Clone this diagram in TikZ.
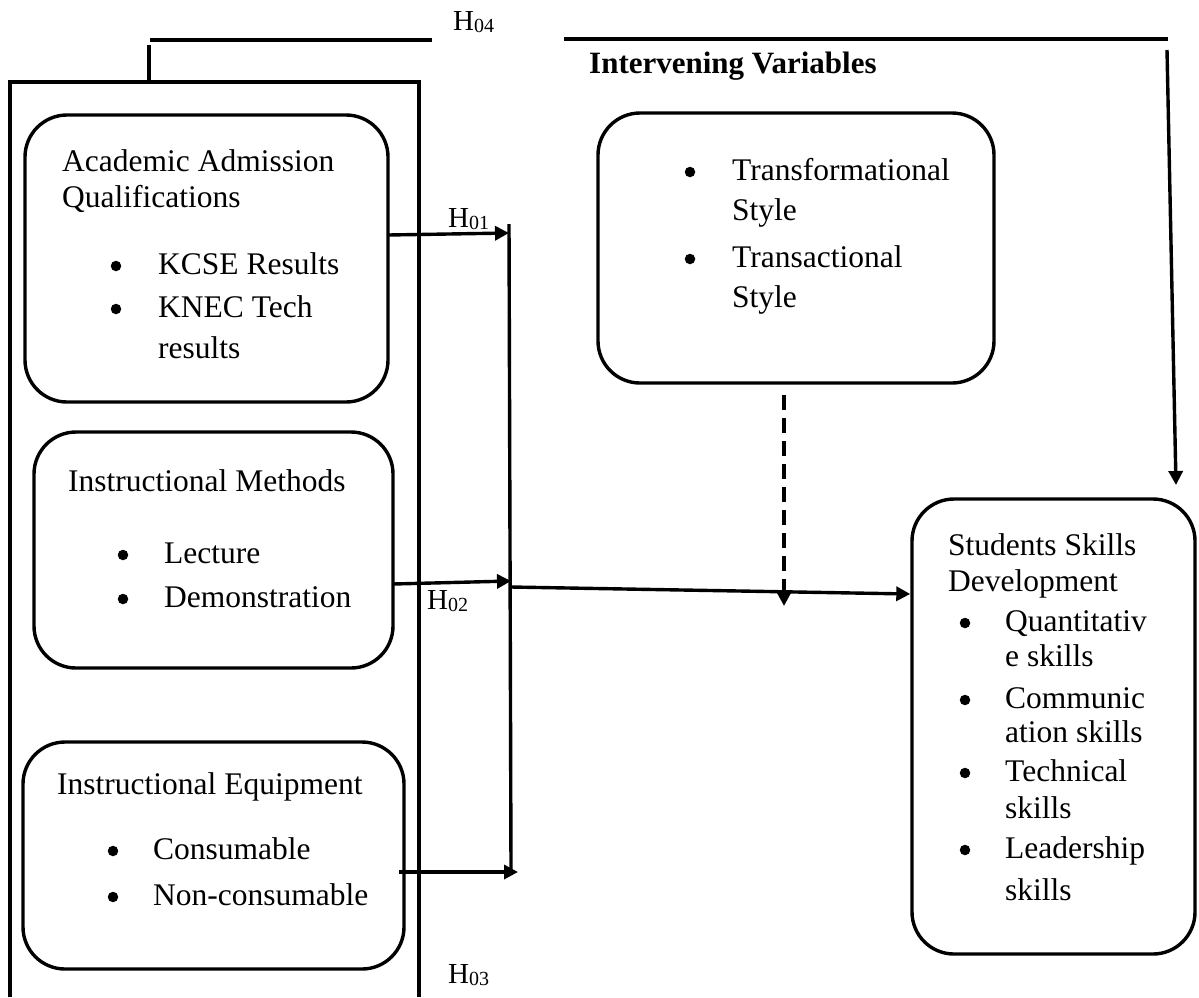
\documentclass[tikz,border=0pt]{standalone}
\usepackage{fontspec}
\setmainfont{Liberation Serif}
\usetikzlibrary{arrows.meta,fit}
\newcommand\hyp[1]{H\raisebox{-2.5pt}{\fontsize{20}{20}\selectfont #1}}
\begin{document}
\begin{tikzpicture}[x=1pt,y=-1pt,
  box/.style={draw, line width=3.4pt, rounded corners=42pt, inner sep=0pt},
  txt/.style={anchor=base west, inner sep=0pt, font=\fontsize{31.5}{36}\selectfont},
  dot/.style={circle, fill, inner sep=0pt, minimum size=10.5pt},
  hlab/.style={anchor=base west, inner sep=0pt, font=\fontsize{29}{30}\selectfont},
  ln/.style={line width=3.4pt},
  arr/.style={ln, -{Triangle[length=14pt,width=14pt]}},
  dsh/.style={arr, dash pattern=on 15pt off 8pt}]
\useasboundingbox (0,0) rectangle (1199,997);

% outer frame (open at bottom) and H04 bracket
\coordinate (oBL) at (10,997);
\coordinate (oTL) at (10,82);
\coordinate (oTR) at (419,82);
\coordinate (oBR) at (419,997);
\draw[ln] (oBL) -- (oTL) -- (oTR) -- (oBR);
\coordinate (stubB) at (149,82);
\coordinate (stubT) at (149,45);
\coordinate (h4a) at (150,40);
\coordinate (h4b) at (432,40);
\draw[ln] (stubB) -- (stubT);
\draw[ln] (h4a) -- (h4b);
\node[hlab] (h04) at (453,30) {\hyp{04}};
\coordinate (r4a) at (564,39);
\coordinate (r4b) at (1168,39);
\draw[ln] (r4a) -- (r4b);

% boxes
\node[box, fit={(25,115) (388,402)}] (b1) {};
\node[box, fit={(34,432) (393,668)}] (b2) {};
\node[box, fit={(23,742) (404,969)}] (b3) {};
\node[box, fit={(598,113) (994,383)}] (bi) {};
\node[box, fit={(912,499) (1195,954)}] (bs) {};

% box 1 text
\node[txt] (t1a) at (62,171) {Academic Admission};
\node[txt] (t1b) at (62,207) {Qualifications};
\node[dot] (t1c) at (116,266) {};
\node[txt] (t1d) at (158,274) {KCSE Results};
\node[dot] (t1e) at (116,309) {};
\node[txt] (t1f) at (158,317) {KNEC Tech};
\node[txt] (t1g) at (158,358) {results};

% box 2 text
\node[txt] (t2a) at (68,491) {Instructional Methods};
\node[dot] (t2b) at (123,555) {};
\node[txt] (t2c) at (164,563) {Lecture};
\node[dot] (t2d) at (123,599) {};
\node[txt] (t2e) at (164,607) {Demonstration};

% box 3 text
\node[txt] (t3a) at (57,794) {Instructional Equipment};
\node[dot] (t3b) at (113,851) {};
\node[txt] (t3c) at (153,859) {Consumable};
\node[dot] (t3d) at (113,897) {};
\node[txt] (t3e) at (153,905) {Non-consumable};

% intervening
\node[txt, font=\fontsize{31}{34}\selectfont\bfseries] (iv) at (589,73) {Intervening Variables};
\node[dot] (tia) at (690,172) {};
\node[txt] (tib) at (732,180) {Transformational};
\node[txt] (tic) at (732,220) {Style};
\node[dot] (tid) at (690,259) {};
\node[txt] (tie) at (732,267) {Transactional};
\node[txt] (tif) at (732,307) {Style};

% students
\node[txt] (tsa) at (948,555) {Students Skills};
\node[txt] (tsb) at (948,591) {Development};
\node[dot] (tsc) at (965,623) {};
\node[txt] (tsd) at (1005,631) {Quantitativ};
\node[txt] (tse) at (1005,666) {e skills};
\node[dot] (tsf) at (965,700) {};
\node[txt] (tsg) at (1005,708) {Communic};
\node[txt] (tsh) at (1005,742) {ation skills};
\node[dot] (tsi) at (965,773) {};
\node[txt] (tsj) at (1005,781) {Technical};
\node[txt] (tsk) at (1005,818) {skills};
\node[dot] (tsl) at (965,850) {};
\node[txt] (tsm) at (1005,858) {Leadership};
\node[txt] (tsn) at (1005,900) {skills};

% hypothesis labels
\node[hlab] (h01) at (448,227) {\hyp{01}};
\node[hlab] (h02) at (427,609) {\hyp{02}};
\node[hlab] (h03) at (448,983) {\hyp{03}};

% collector line and arrows
\coordinate (vT) at (509,224);
\coordinate (vB) at (511,870);
\draw[ln] (vT) -- (vB);
\coordinate (a1s) at (388,235);
\coordinate (a1e) at (509,233);
\draw[arr] (a1s) -- (a1e);
\coordinate (a2s) at (393,584);
\coordinate (a2e) at (511,581);
\draw[arr] (a2s) -- (a2e);
\coordinate (a3s) at (399,872);
\coordinate (a3e) at (518,872);
\draw[arr] (a3s) -- (a3e);
\coordinate (ms) at (511,587);
\draw[arr] (ms) -- (bs.west |- 0,594);
\coordinate (ds) at (784,395);
\coordinate (de) at (784,606);
\draw[dsh] (ds) -- (de);
\coordinate (rs) at (1167,50);
\coordinate (re) at (1176,485);
\draw[arr] (rs) -- (re);
\end{tikzpicture}
\end{document}
